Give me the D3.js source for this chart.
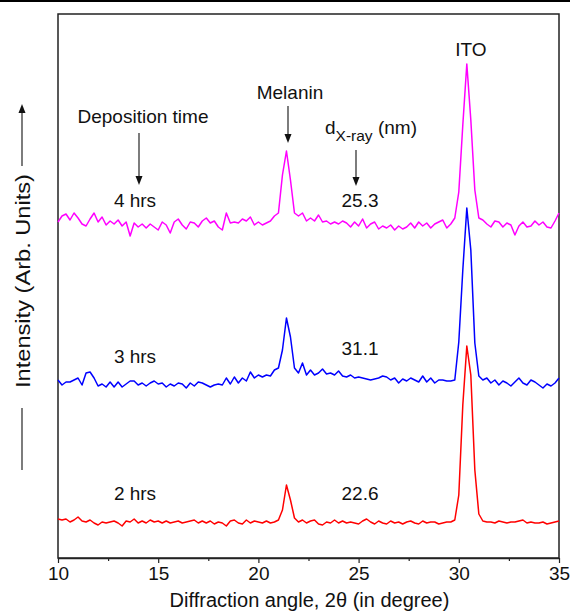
<!DOCTYPE html>
<html><head><meta charset="utf-8">
<script src="https://cdn.jsdelivr.net/npm/d3@7"></script>
<style>
body{margin:0;background:#fff}
svg{display:block}
text{font-family:"Liberation Sans",Arial,sans-serif;fill:#111}
</style>
</head><body><svg id="c" width="570" height="612"></svg>
<script>
// 2θ grid: first angle and step (degrees)
const angleStart = 10, angleStep = 0.2;
// Intensities (arb. units, vertically offset stacks), one value per 0.2° from 10° to 35°
const series2h = [39,38,39,36,38,41,37,36,38,35,33,36,35,36,37,35,32,37,36,39,35,37,35,38,36,37,35,37,35,36,37,35,36,37,38,35,37,35,37,34,36,35,32,37,38,35,34,38,35,37,36,35,37,35,36,38,48,73,58,40,36,38,35,37,38,34,33,36,35,38,35,37,35,36,35,34,37,39,36,34,37,35,34,37,35,36,34,36,37,35,34,37,35,36,36,34,35,36,36,38,63,153,212,183,88,44,37,36,36,35,37,36,35,36,36,37,38,35,36,35,35,36,34,35,36,37];
const series3h = [178,173,176,176,178,180,173,185,186,180,172,174,171,176,171,176,171,174,177,177,173,175,172,175,177,174,175,171,174,172,175,174,170,175,172,176,175,173,171,173,174,173,180,174,181,175,180,177,186,180,183,181,183,182,188,190,208,240,221,190,185,195,183,188,183,185,189,184,185,183,187,182,181,183,180,181,180,179,178,179,180,182,181,178,180,175,179,177,180,178,176,182,176,180,175,178,178,177,177,178,216,288,350,308,215,182,178,180,175,178,173,177,175,172,176,180,175,173,178,176,173,170,174,172,175,180];
const series4h = [336,342,344,338,345,340,334,332,339,345,336,341,333,337,334,338,332,336,322,335,331,334,330,334,331,328,336,333,325,336,339,333,329,336,335,331,337,340,335,337,331,328,345,335,336,335,339,337,341,333,336,333,335,337,342,345,383,407,378,345,342,345,337,340,337,343,336,337,334,336,334,337,335,331,336,332,339,330,334,336,329,332,330,333,328,332,329,331,335,330,336,332,335,330,334,336,338,330,334,340,366,433,494,438,368,340,338,334,331,337,336,331,335,333,323,332,336,331,332,337,333,336,331,330,337,345];
const seriesNames = ["2 hrs", "3 hrs", "4 hrs"];
const sizeLabels = ["22.6", "31.1", "25.3"];
const seriesColors = ["#ff0000", "#0000ff", "#ff00ff"];
const xTicks = [10, 15, 20, 25, 30, 35];
const xMinorTicks = [12.5, 17.5, 22.5, 27.5, 32.5];

const svg = d3.select("#c");
const x = d3.scaleLinear().domain([10, 35]).range([58, 559]);
const y = d3.scaleLinear().domain([0, 544]).range([558, 14]);

// top rule
svg.append("line").attr("x1",0).attr("x2",570).attr("y1",1).attr("y2",1)
  .attr("stroke","#000").attr("stroke-width",2);

// frame
svg.append("rect").attr("x",x(10)).attr("y",y(544)).attr("width",x(35)-x(10)).attr("height",y(0)-y(544))
  .attr("fill","none").attr("stroke","#222").attr("stroke-width",1.5);

// axis
const ax = svg.append("g").attr("transform",`translate(0,${y(0)})`)
  .call(d3.axisBottom(x).tickValues(xTicks).tickSize(5).tickSizeOuter(0).tickPadding(4));
ax.select(".domain").attr("stroke","#222").attr("stroke-width",1.5);
ax.selectAll(".tick line").attr("stroke","#222").attr("stroke-width",1.2);
ax.selectAll(".tick text").style("font-size","19px").style("font-family",'"Liberation Sans",Arial,sans-serif').attr("fill","#111");
const axm = svg.append("g").attr("transform",`translate(0,${y(0)})`)
  .call(d3.axisBottom(x).tickValues(xMinorTicks).tickSize(3).tickFormat(""));
axm.select(".domain").remove();
axm.selectAll(".tick line").attr("stroke","#222").attr("stroke-width",1.2);

// axis titles
svg.append("text").attr("x",(x(10)+x(35))/2 + 1).attr("y",607).attr("text-anchor","middle")
  .style("font-size","20px").text("Diffraction angle, 2θ (in degree)");
svg.append("text").attr("transform","translate(30,281) rotate(-90)").attr("text-anchor","middle")
  .attr("textLength",214).attr("lengthAdjust","spacingAndGlyphs")
  .style("font-size","21px").text("Intensity (Arb. Units)");

function arrow(cx, y1, y2, hw, hl){
  svg.append("line").attr("x1",cx).attr("x2",cx).attr("y1",y1).attr("y2",y2 + (y2>y1?-hl+1:hl-1))
    .attr("stroke","#111").attr("stroke-width",1.1);
  const d = y2>y1 ? `M${cx},${y2}L${cx-hw},${y2-hl}L${cx+hw},${y2-hl}Z` : `M${cx},${y2}L${cx-hw},${y2+hl}L${cx+hw},${y2+hl}Z`;
  svg.append("path").attr("d",d).attr("fill","#111");
}
// y-title arrow and tail
arrow(22, 166, 104, 3.5, 9);
svg.append("line").attr("x1",22).attr("x2",22).attr("y1",408).attr("y2",470).attr("stroke","#111").attr("stroke-width",1.1);

// spectra
const all = [series2h, series3h, series4h];
const line = d3.line().x((d,i)=>x(angleStart + i*angleStep)).y(d=>y(d));
all.forEach((s,k)=>{
  svg.append("path").datum(s).attr("d",line).attr("fill","none")
    .attr("stroke",seriesColors[k]).attr("stroke-width",1.5).attr("stroke-linejoin","round");
});

// annotations
const fs = "19px";
function txt(t, xx, yy, size){ return svg.append("text").attr("x",xx).attr("y",yy).attr("text-anchor","middle").style("font-size",size||fs).text(t); }
txt("ITO", 471, 56);
txt("Melanin", 290, 99);
arrow(288, 106, 143, 3.5, 9);
txt("Deposition time", 143, 123);
arrow(139, 133, 185, 3.5, 9);
const dt = svg.append("text").attr("x",325).attr("y",134).style("font-size",fs);
dt.append("tspan").text("d");
dt.append("tspan").attr("dy",7).style("font-size","15.5px").text("X-ray");
dt.append("tspan").attr("dy",-7).text(" (nm)");
arrow(356, 150, 186, 3.5, 9);

const labelY = [500, 363, 207];
const sizeY = [500, 355, 207];
seriesNames.forEach((n,k)=>{ txt(n, 135, labelY[k]); txt(sizeLabels[k], 360, sizeY[k]); });
</script></body></html>
